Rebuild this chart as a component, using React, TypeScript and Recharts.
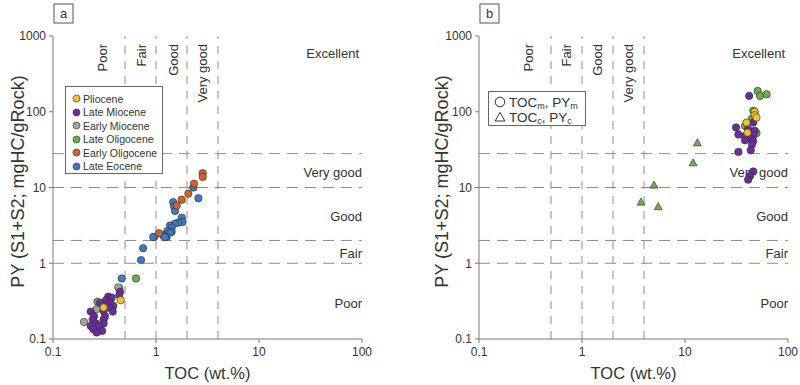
import React from 'react';
import { ScatterChart, Scatter, XAxis, YAxis, ReferenceLine, Legend, Customized } from 'recharts';

// ---------- axis ticks & classification limits ----------
const xTicks = [0.1, 1, 10, 100];
const yTicks = [0.1, 1, 10, 100, 1000];
const tocLimits = [0.5, 1, 2, 4];
const pyLimits = [1, 2, 10, 28];
const qualityLabels = ['Poor', 'Fair', 'Good', 'Very good'];
const pyBandLabels = ['Very good', 'Good', 'Fair', 'Poor'];

// ---------- panel a: [TOC, PY] ----------
const pliocene: [number, number][] = [[0.454, 0.325], [0.31, 0.26]];
const lateMiocene: [number, number][] = [
  [0.447, 0.42], [0.44, 0.38], [0.344, 0.363], [0.372, 0.352], [0.327, 0.325], [0.286, 0.3],
  [0.358, 0.3], [0.385, 0.273], [0.352, 0.26], [0.232, 0.23], [0.31, 0.235], [0.38, 0.23],
  [0.25, 0.2], [0.32, 0.2], [0.243, 0.18], [0.31, 0.18], [0.262, 0.16], [0.31, 0.16],
  [0.232, 0.149], [0.28, 0.149], [0.246, 0.135], [0.3, 0.128], [0.265, 0.122],
];
const earlyMiocene: [number, number][] = [[0.43, 0.48], [0.265, 0.247], [0.2, 0.168]];
const lateOligocene: [number, number][] = [[0.64, 0.63], [0.27, 0.31], [0.44, 0.47]];
const earlyOligocene: [number, number][] = [
  [2.84, 15.4], [2.84, 13.8], [2.34, 11.2], [2.06, 8.3], [1.78, 6.9], [1.59, 5.8], [1.07, 2.49],
];
const lateEocene: [number, number][] = [
  [2.3, 10.0], [2.58, 7.2], [1.47, 6.4], [1.5, 5.6], [1.53, 4.9], [1.78, 4.0], [1.81, 3.5],
  [1.65, 3.45], [1.53, 3.34], [1.37, 3.15], [1.42, 2.95], [1.29, 2.65], [1.42, 2.6], [1.37, 2.54],
  [1.2, 2.34], [1.18, 2.3], [1.27, 2.22], [1.22, 2.22], [0.96, 2.22], [0.94, 2.22], [0.75, 1.58],
  [0.715, 1.1], [0.465, 0.63],
];

// ---------- panel b: [TOC, PY] ----------
const calcTriangles: [number, number][] = [[13.2, 39], [12.0, 21.3], [5.0, 10.8], [3.74, 6.45], [5.5, 5.6]];
const bGreen: [number, number][] = [[50.8, 188], [53.5, 162], [62, 170], [46, 103], [44.7, 81], [38.2, 65], [49.4, 52]];
const bYellow: [number, number][] = [[47.6, 100], [47.6, 90], [49.4, 84], [39.6, 72], [40.4, 53]];
const bPurple: [number, number][] = [
  [42, 162], [46, 72], [31.3, 62], [41, 59], [47.6, 56], [33, 50], [38.2, 48], [46, 49],
  [43.5, 44], [38.2, 42], [46, 41], [44.7, 37], [33, 29.5], [43.5, 31], [46, 16.3], [43, 14.3], [41, 12.7],
];

const C = {
  yellow: '#F5C12E',
  purple: '#6B2D9B',
  gray: '#A3A3A3',
  green: '#6DAE4A',
  orange: '#D2622A',
  blue: '#4178C8',
};

const legendA = [
  { name: 'Pliocene', color: C.yellow },
  { name: 'Late Miocene', color: C.purple },
  { name: 'Early Miocene', color: C.gray },
  { name: 'Late Oligocene', color: C.green },
  { name: 'Early Oligocene', color: C.orange },
  { name: 'Late Eocene', color: C.blue },
];

const rows = (pts: [number, number][]) => pts.map(([toc, py]) => ({ toc, py }));

const FONT = '"Liberation Sans", Arial, sans-serif';
const TXT = '#333';
const AXIS = '#7a7a7a';
const DASH = '#8c8c8c';

const dot = (fill: string) => (p: any) => (
  <circle cx={p.cx} cy={p.cy} r={3.7} fill={fill} stroke="#2e2e2e" strokeWidth={0.6} />
);
const tri = (fill: string) => (p: any) => {
  const s = 4;
  return (
    <path
      d={`M${p.cx},${p.cy - s} L${p.cx + s},${p.cy + s * 0.8} L${p.cx - s},${p.cy + s * 0.8} Z`}
      fill={fill}
      stroke="#2e2e2e"
      strokeWidth={0.6}
    />
  );
};

const fmt = (v: number) => String(v);

const axes = (yWidth: number, yLabelOffset: number) => [
  <XAxis
    key="x"
    type="number"
    dataKey="toc"
    scale="log"
    domain={[0.1, 100]}
    ticks={xTicks}
    interval={0}
    allowDataOverflow
    tickFormatter={fmt}
    tickSize={4}
    tickMargin={4}
    stroke={AXIS}
    height={46}
    tick={{ fill: TXT, fontSize: 12, fontFamily: FONT }}
    label={{ value: 'TOC (wt.%)', position: 'insideBottom', offset: 6, fontSize: 16.5, fill: TXT, fontFamily: FONT }}
  />,
  <YAxis
    key="y"
    type="number"
    dataKey="py"
    scale="log"
    domain={[0.1, 1000]}
    ticks={yTicks}
    interval={0}
    allowDataOverflow
    tickFormatter={fmt}
    tickSize={4}
    tickMargin={3}
    stroke={AXIS}
    width={yWidth}
    tick={{ fill: TXT, fontSize: 12, fontFamily: FONT }}
    label={{
      value: 'PY (S1+S2; mgHC/gRock)',
      angle: -90,
      position: 'insideLeft',
      offset: yLabelOffset,
      dy: -6,
      fontSize: 18,
      fill: TXT,
      fontFamily: FONT,
      style: { textAnchor: 'middle' },
    }}
  />,
];

const refLines = () => [
  ...tocLimits.map((v) => (
    <ReferenceLine key={'vx' + v} x={v} stroke={DASH} strokeDasharray="8 7" strokeWidth={1} />
  )),
  ...pyLimits.map((v) => (
    <ReferenceLine key={'hy' + v} y={v} stroke={DASH} strokeDasharray="11 7" strokeWidth={1} />
  )),
];

// annotation text (chart-relative pixel positions)
const Annot = ({ colX, rightX, excX, tag, tagX }: { colX: number[]; rightX: number; excX: number; tag: string; tagX: number }) => (
  <g fontFamily={FONT} fill={TXT}>
    {qualityLabels.map((t, i) => (
      <text
        key={t}
        x={colX[i]}
        y={44}
        transform={`rotate(-90, ${colX[i]}, 44)`}
        textAnchor="end"
        dominantBaseline="central"
        fontSize={13}
      >
        {t}
      </text>
    ))}
    <text x={excX} y={58} textAnchor="end" fontSize={13}>Excellent</text>
    {pyBandLabels.map((t, i) => (
      <text key={t} x={rightX} y={[177, 221, 258, 308][i]} textAnchor="end" fontSize={13}>
        {t}
      </text>
    ))}
    <rect x={tagX} y={4} width={19} height={19} fill="#fff" stroke="#555" strokeWidth={1} />
    <text x={tagX + 9.5} y={18} textAnchor="middle" fontSize={13}>{tag}</text>
  </g>
);

const LegendBoxA = () => (
  <div
    style={{
      boxSizing: 'border-box',
      width: 98,
      height: 88,
      border: '1px solid #666',
      background: '#fff',
      paddingTop: 5,
      fontFamily: FONT,
      fontSize: 10.5,
      color: TXT,
    }}
  >
    {legendA.map((l) => (
      <div key={l.name} style={{ display: 'flex', alignItems: 'center', height: 13.5, whiteSpace: 'nowrap' }}>
        <svg width={9} height={9} style={{ marginLeft: 6, flex: 'none' }}>
          <circle cx={4.5} cy={4.5} r={3.5} fill={l.color} stroke="#2e2e2e" strokeWidth={0.6} />
        </svg>
        <span style={{ marginLeft: 2 }}>{l.name}</span>
      </div>
    ))}
  </div>
);

const LegendBoxB = () => (
  <div
    style={{
      boxSizing: 'border-box',
      width: 98,
      height: 35,
      border: '1px solid #666',
      background: '#fff',
      paddingTop: 2.5,
      fontFamily: FONT,
      fontSize: 13.5,
      color: TXT,
    }}
  >
    <div style={{ display: 'flex', alignItems: 'center', height: 15, whiteSpace: 'nowrap' }}>
      <svg width={12} height={12} style={{ marginLeft: 5, flex: 'none' }}>
        <circle cx={6} cy={6} r={4.8} fill="#fff" stroke="#333" strokeWidth={1} />
      </svg>
      <span style={{ marginLeft: 3 }}>
        TOC<span style={{ fontSize: 9, position: 'relative', top: 2 }}>m</span>, PY
        <span style={{ fontSize: 9, position: 'relative', top: 2 }}>m</span>
      </span>
    </div>
    <div style={{ display: 'flex', alignItems: 'center', height: 15, whiteSpace: 'nowrap' }}>
      <svg width={12} height={12} style={{ marginLeft: 5, flex: 'none' }}>
        <path d="M6,1.2 L10.8,10 L1.2,10 Z" fill="#fff" stroke="#333" strokeWidth={1} />
      </svg>
      <span style={{ marginLeft: 3 }}>
        TOC<span style={{ fontSize: 9, position: 'relative', top: 2 }}>c</span>, PY
        <span style={{ fontSize: 9, position: 'relative', top: 2 }}>c</span>
      </span>
    </div>
  </div>
);

export default function App() {
  return (
    <div style={{ position: 'absolute', left: 0, top: 0, width: 800, height: 385, background: '#fff', fontFamily: FONT }}>
      <div style={{ position: 'absolute', left: 0, top: 0 }}>
        <ScatterChart width={400} height={385} margin={{ top: 36, right: 38, bottom: 0, left: 0 }}>
          {axes(53, 18)}
          {refLines()}
          <Scatter name="Late Eocene" data={rows(lateEocene)} fill={C.blue} shape={dot(C.blue)} isAnimationActive={false} />
          <Scatter name="Early Oligocene" data={rows(earlyOligocene)} fill={C.orange} shape={dot(C.orange)} isAnimationActive={false} />
          <Scatter name="Late Oligocene" data={rows(lateOligocene)} fill={C.green} shape={dot(C.green)} isAnimationActive={false} />
          <Scatter name="Early Miocene" data={rows(earlyMiocene)} fill={C.gray} shape={dot(C.gray)} isAnimationActive={false} />
          <Scatter name="Late Miocene" data={rows(lateMiocene)} fill={C.purple} shape={dot(C.purple)} isAnimationActive={false} />
          <Scatter name="Pliocene" data={rows(pliocene)} fill={C.yellow} shape={dot(C.yellow)} isAnimationActive={false} />
          <Customized component={() => <Annot colX={[102, 141, 173, 202]} rightX={362} excX={359} tag="a" tagX={54} />} />
          <Legend
            layout="vertical"
            align="center"
            verticalAlign="middle"
            wrapperStyle={{ left: 65, top: 86, width: 98, height: 88 }}
            content={() => <LegendBoxA />}
          />
        </ScatterChart>
      </div>
      <div style={{ position: 'absolute', left: 400, top: 0 }}>
        <ScatterChart width={400} height={385} margin={{ top: 36, right: 12, bottom: 0, left: 0 }}>
          {axes(79, 42)}
          {refLines()}
          <Scatter name="Late Oligocene" data={rows(bGreen)} fill={C.green} shape={dot(C.green)} isAnimationActive={false} />
          <Scatter name="Late Miocene" data={rows(bPurple)} fill={C.purple} shape={dot(C.purple)} isAnimationActive={false} />
          <Scatter name="Pliocene" data={rows(bYellow)} fill={C.yellow} shape={dot(C.yellow)} isAnimationActive={false} />
          <Scatter name="TOCc, PYc" data={rows(calcTriangles)} fill={C.green} shape={tri(C.green)} isAnimationActive={false} />
          <Customized component={() => <Annot colX={[128, 166, 197, 228]} rightX={388} excX={385} tag="b" tagX={80} />} />
          <Legend
            layout="vertical"
            align="center"
            verticalAlign="middle"
            wrapperStyle={{ left: 88, top: 91, width: 98, height: 35 }}
            content={() => <LegendBoxB />}
          />
        </ScatterChart>
      </div>
    </div>
  );
}
